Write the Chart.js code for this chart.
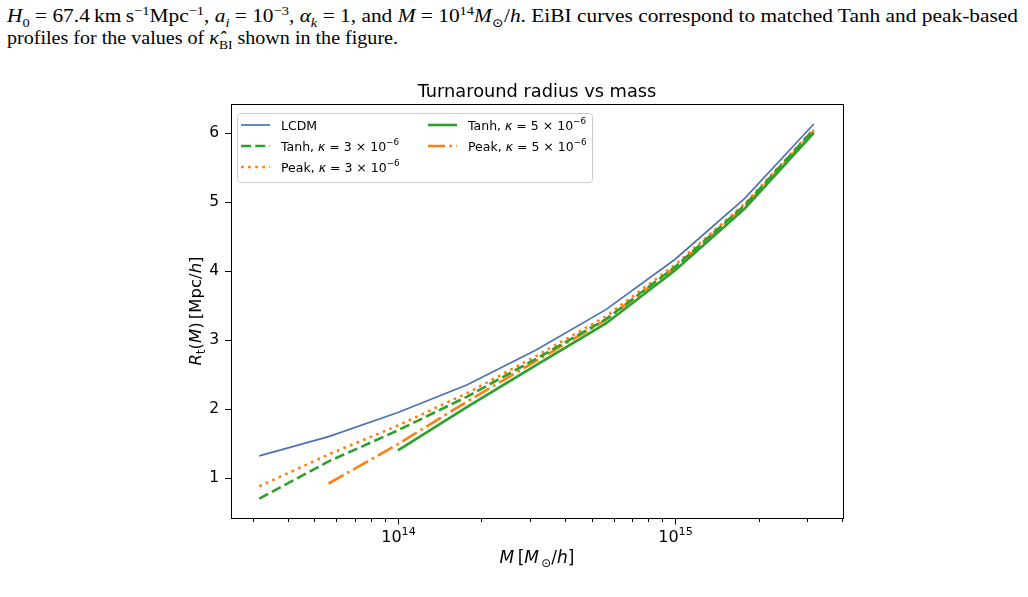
<!DOCTYPE html>
<html>
<head>
<meta charset="utf-8">
<script src="https://cdn.jsdelivr.net/npm/chart.js@4.4.1/dist/chart.umd.min.js"></script>
<style>
  body { margin: 0; background: #fff; width: 1028px; height: 597px; overflow: hidden; position: relative; }
  #c { position: absolute; left: 0; top: 0; }
  .cap { position: absolute; left: 7px; font-family: "Liberation Serif", "DejaVu Serif", serif;
         font-size: 18.5px; line-height: 22px; color: #000; white-space: nowrap; transform-origin: 0 0; }
  .cap sup, .cap sub { font-size: 12.5px; line-height: 0; }
</style>
</head>
<body>
<div class="cap" id="cap1" style="top:5px"><i>H</i><sub>0</sub> = 67.4&#8201;km&#8201;s<sup>−1</sup>Mpc<sup>−1</sup>, <i>a<sub>i</sub></i> = 10<sup>−3</sup>, <i>α<sub>k</sub></i> = 1, and <i>M</i> = 10<sup>14</sup><i>M</i><sub>⊙</sub>/<i>h</i>. EiBI curves correspond to matched Tanh and peak-based</div>
<div class="cap" id="cap2" style="top:27px">profiles for the values of <i>κ̂</i><sub>BI</sub> shown in the figure.</div>
<canvas id="c" width="1028" height="597"></canvas>
<script>
// masses (M_sun/h), log-spaced 10^13.5 .. 10^15.5
const logM = [13.5, 13.75, 14, 14.25, 14.5, 14.75, 15, 15.25, 15.5];
const masses = logM.map(v => Math.pow(10, v));

// turnaround radius R_t [Mpc/h]
const lcdm   = [1.32, 1.60, 1.95, 2.35, 2.86, 3.44, 4.17, 5.05, 6.13];
const tanh3  = [0.70, 1.24, 1.69, 2.18, 2.73, 3.30, 4.06, 4.95, 6.05];
const peak3  = [0.88, 1.34, 1.76, 2.23, 2.77, 3.34, 4.09, 4.97, 6.06];
const tanh5  = [null, null, 1.40, 2.03, 2.64, 3.24, 4.01, 4.90, 6.00];
const peak5  = [null, 0.92, 1.49, 2.11, 2.70, 3.29, 4.05, 4.93, 6.03];

const yTicks = [1, 2, 3, 4, 5, 6];
const xMajor = [1e14, 1e15];
const xMinor = [3e13, 4e13, 5e13, 6e13, 7e13, 8e13, 9e13,
                2e14, 3e14, 4e14, 5e14, 6e14, 7e14, 8e14, 9e14, 2e15, 3e15, 4e15];

const BLUE = "#4c72b0", GREEN = "#2ca02c", ORANGE = "#ff7f0e";
const FONT = '"DejaVu Sans", sans-serif';

// stretch the caption lines to the width of the page text
function fitCaption(id, width) {
  const el = document.getElementById(id);
  const w = el.getBoundingClientRect().width;
  el.style.transform = "scaleX(" + (width / w) + ")";
}
fitCaption("cap1", 1011);
fitCaption("cap2", 391);

function pts(vals) {
  return masses.map((m, i) => ({ x: m, y: vals[i] })).filter(p => p.y !== null);
}

const datasets = [
  { key: "lcdm", data: pts(lcdm), borderColor: BLUE, borderWidth: 1.7, borderDash: [],
    legend: [["LCDM", ""]] },
  { key: "tanh3", data: pts(tanh3), borderColor: GREEN, borderWidth: 2.6, borderDash: [10, 4.3],
    legend: [["Tanh, ", ""], ["κ", "i"], [" = 3 × 10", ""], ["−6", "s"]] },
  { key: "peak3", data: pts(peak3), borderColor: ORANGE, borderWidth: 2.6, borderDash: [2.7, 4.4],
    legend: [["Peak, ", ""], ["κ", "i"], [" = 3 × 10", ""], ["−6", "s"]] },
  { key: "tanh5", data: pts(tanh5), borderColor: GREEN, borderWidth: 2.6, borderDash: [],
    legend: [["Tanh, ", ""], ["κ", "i"], [" = 5 × 10", ""], ["−6", "s"]] },
  { key: "peak5", data: pts(peak5), borderColor: ORANGE, borderWidth: 2.6, borderDash: [17, 4.3, 2.7, 4.3],
    legend: [["Peak, ", ""], ["κ", "i"], [" = 5 × 10", ""], ["−6", "s"]] }
];
datasets.forEach(d => { d.pointRadius = 0; d.tension = 0; d.fill = false; d.borderCapStyle = "butt"; });

// draw text made of styled pieces: [text, style] with style "" | "i" | "s"(sup) | "b"(sub)
function rich(ctx, parts, x, y, size, align) {
  const fontOf = st => {
    if (st === "s" || st === "b") return (size * 0.7) + "px " + FONT;
    if (st === "i") return "italic " + size + "px " + FONT;
    return size + "px " + FONT;
  };
  let w = 0;
  parts.forEach(p => { ctx.font = fontOf(p[1]); w += ctx.measureText(p[0]).width; });
  let cx = align === "center" ? x - w / 2 : (align === "right" ? x - w : x);
  ctx.textBaseline = "alphabetic";
  ctx.textAlign = "left";
  parts.forEach(p => {
    ctx.font = fontOf(p[1]);
    let dy = p[1] === "s" ? -size * 0.45 : (p[1] === "b" ? size * 0.25 : 0);
    ctx.fillText(p[0], cx, y + dy);
    cx += ctx.measureText(p[0]).width;
  });
  return w;
}

const decor = {
  id: "decor",
  afterDraw(chart) {
    const ctx = chart.ctx, a = chart.chartArea;
    const xs = chart.scales.x, ys = chart.scales.y;
    ctx.save();
    ctx.fillStyle = "#000";
    ctx.strokeStyle = "#000";
    ctx.lineWidth = 1;

    // frame
    ctx.strokeRect(Math.round(a.left) + 0.5, Math.round(a.top) + 0.5,
                   Math.round(a.right - a.left), Math.round(a.bottom - a.top));

    // y ticks
    yTicks.forEach(v => {
      const py = Math.round(ys.getPixelForValue(v)) + 0.5;
      ctx.beginPath(); ctx.moveTo(a.left - 6, py); ctx.lineTo(a.left, py); ctx.stroke();
    });
    // x ticks
    const b = Math.round(a.bottom);
    xMinor.forEach(v => {
      const px = Math.round(xs.getPixelForValue(v)) + 0.5;
      ctx.beginPath(); ctx.moveTo(px, b); ctx.lineTo(px, b + 4); ctx.stroke();
    });
    xMajor.forEach(v => {
      const px = Math.round(xs.getPixelForValue(v)) + 0.5;
      ctx.beginPath(); ctx.moveTo(px, b); ctx.lineTo(px, b + 6.5); ctx.stroke();
      rich(ctx, [["10", ""], [String(Math.round(Math.log10(v))), "s"]], px, a.bottom + 24, 16, "center");
    });

    // title
    ctx.font = "17.8px " + FONT;
    ctx.textAlign = "center";
    ctx.textBaseline = "alphabetic";
    ctx.fillText("Turnaround radius vs mass", (a.left + a.right) / 2, a.top - 7);

    // x label
    rich(ctx, [["M", "i"], ["\u2009[", ""], ["M", "i"], ["\u2009⊙", "b"], ["/", ""], ["h", "i"], ["]", ""]],
         (a.left + a.right) / 2, 563, 17, "center");

    // y label
    ctx.save();
    ctx.translate(201, (a.top + a.bottom) / 2);
    ctx.rotate(-Math.PI / 2);
    rich(ctx, [["R", "i"], ["t", "b"], ["(", ""], ["M", "i"], [")\u2009[Mpc/", ""], ["h", "i"], ["]", ""]],
         0, 0, 16.5, "center");
    ctx.restore();

    // legend (2 columns, column-wise fill like matplotlib)
    const lx = a.left + 6, ly = a.top + 9, lw = 355, lh = 69;
    ctx.beginPath();
    ctx.roundRect(lx + 0.5, ly + 0.5, lw, lh, 3);
    ctx.fillStyle = "rgba(255,255,255,0.8)";
    ctx.fill();
    ctx.strokeStyle = "#cccccc";
    ctx.stroke();
    const slots = [[0, 0], [0, 1], [0, 2], [1, 0], [1, 1]];
    const colX = [lx + 4, lx + 191];
    chart.data.datasets.forEach((d, i) => {
      const [c, r] = slots[i];
      const sx = colX[c], sy = ly + 12 + r * 21;
      ctx.save();
      ctx.strokeStyle = d.borderColor;
      ctx.lineWidth = d.borderWidth;
      ctx.lineCap = "butt";
      ctx.setLineDash(d.borderDash);
      ctx.beginPath(); ctx.moveTo(sx, sy); ctx.lineTo(sx + 29, sy); ctx.stroke();
      ctx.restore();
      ctx.fillStyle = "#000";
      rich(ctx, d.legend, sx + 40, sy + 4.5, 12.5, "left");
    });
    ctx.restore();
  }
};

new Chart(document.getElementById("c"), {
  type: "line",
  data: { datasets },
  options: {
    responsive: false,
    animation: false,
    devicePixelRatio: 1,
    layout: { padding: { left: 150, right: 185, top: 104, bottom: 39 } },
    plugins: { legend: { display: false }, title: { display: false }, tooltip: { enabled: false } },
    scales: {
      x: {
        type: "logarithmic",
        min: 2.5e13, max: 4.03e15,
        grid: { display: false, drawTicks: false },
        border: { display: false },
        ticks: { display: false },
        afterFit: s => { s.height = 40; }
      },
      y: {
        type: "linear",
        min: 0.42, max: 6.42,
        grid: { display: false, drawTicks: false },
        border: { display: false },
        afterBuildTicks: s => { s.ticks = yTicks.map(v => ({ value: v })); },
        ticks: { color: "#000", padding: 12, font: { family: "DejaVu Sans", size: 15.5 } },
        afterFit: s => { s.width = 81; }
      }
    }
  },
  plugins: [decor]
});
</script>
</body>
</html>
